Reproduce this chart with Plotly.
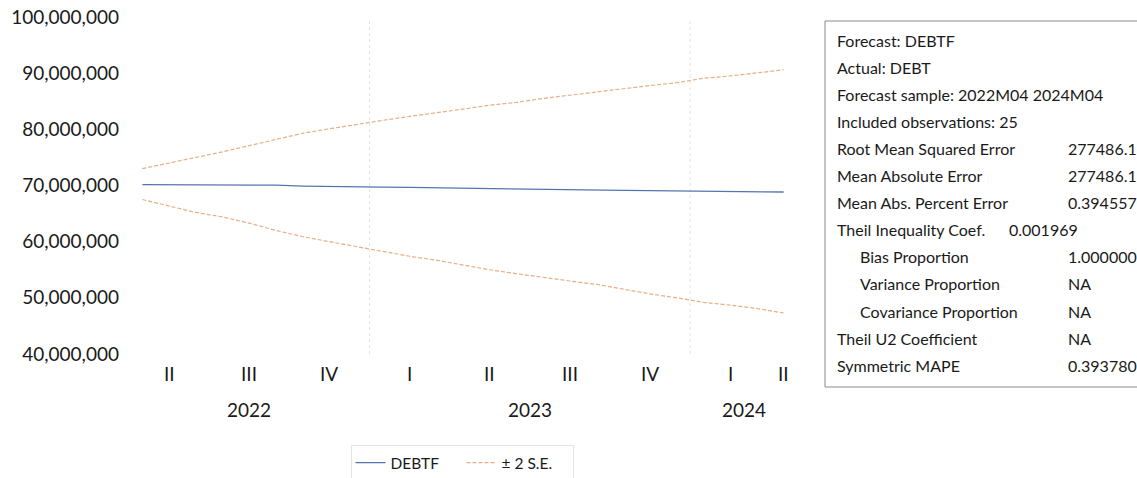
import plotly.graph_objects as go

# ---- data ---------------------------------------------------------------
months = []
for yr in (2022, 2023, 2024):
    for m in range(1, 13):
        if (yr, m) >= (2022, 4) and (yr, m) <= (2024, 4):
            months.append(f"{yr}M{m:02d}")

debtf = [70.15, 70.15, 70.15, 70.17, 70.12, 70.06, 69.90, 69.80, 69.73,
         69.70, 69.65, 69.57, 69.52, 69.46, 69.37, 69.28, 69.21, 69.18,
         69.14, 69.10, 69.07, 69.02, 68.95, 68.87, 68.84]
upper = [73.0, 74.0, 74.9, 76.0, 77.1, 78.2, 79.3, 80.1, 80.9, 81.6, 82.3,
         82.9, 83.6, 84.3, 84.8, 85.5, 86.1, 86.6, 87.2, 87.8, 88.3, 89.1,
         89.5, 90.0, 90.6]
lower = [67.5, 66.3, 65.2, 64.4, 63.3, 62.0, 60.9, 60.0, 59.1, 58.2, 57.4,
         56.7, 55.8, 55.0, 54.3, 53.6, 53.0, 52.4, 51.5, 50.7, 50.0, 49.2,
         48.7, 48.1, 47.3]
scale = 1_000_000  # values above are in millions

quarter_labels = ["II", "III", "IV", "I", "II", "III", "IV", "I", "II"]
quarter_months = ["2022M05", "2022M08", "2022M11", "2023M02", "2023M05",
                  "2023M08", "2023M11", "2024M02", "2024M04"]
year_labels = ["2022", "2023", "2024"]
year_centers = [4.0, 14.5, 22.5]          # category-index centres of each year
year_breaks = [8.5, 20.5]

y_ticks = [40, 50, 60, 70, 80, 90, 100]

stats_rows = [
    ("Forecast: DEBTF", "", False),
    ("Actual: DEBT", "", False),
    ("Forecast sample: 2022M04 2024M04", "", False),
    ("Included observations: 25", "", False),
    ("Root Mean Squared Error", "277486.1", False),
    ("Mean Absolute Error", "277486.1", False),
    ("Mean Abs. Percent Error", "0.394557", False),
    ("Theil Inequality Coef.", "0.001969", False),
    ("Bias Proportion", "1.000000", True),
    ("Variance Proportion", "NA", True),
    ("Covariance Proportion", "NA", True),
    ("Theil U2 Coefficient", "NA", False),
    ("Symmetric MAPE", "0.393780", False),
]

# ---- layout geometry (pixels) ------------------------------------------
W, H = 1137, 478
L, R, T, B = 129, 340, 17, 124
PW, PH = W - L - R, H - T - B
FONT = "Lato"
BLUE = "#5575AD"
ORANGE = "#E8AE86"
TEXT = "#1a1a1a"


def fx(px):
    return (px - L) / PW


def fy(py):
    return (H - B - py) / PH


fig = go.Figure()
fig.add_trace(go.Scatter(
    x=months, y=[v * scale for v in debtf], name="DEBTF", mode="lines",
    line=dict(color=BLUE, width=1.3)))
fig.add_trace(go.Scatter(
    x=months, y=[v * scale for v in upper], name="± 2 S.E.", mode="lines",
    line=dict(color=ORANGE, width=1.2, dash="4px,2px"), legendgroup="se"))
fig.add_trace(go.Scatter(
    x=months, y=[v * scale for v in lower], name="± 2 S.E.", mode="lines",
    line=dict(color=ORANGE, width=1.2, dash="4px,2px"), legendgroup="se",
    showlegend=False))

# year separators
for xb in year_breaks:
    fig.add_shape(type="line", xref="x", yref="paper", x0=xb, x1=xb,
                  y0=0, y1=0.99, line=dict(color="#E4E4E4", width=1, dash="dot"),
                  layer="below")

annotations = []
for lab, m in zip(quarter_labels, quarter_months):
    annotations.append(dict(x=months.index(m), y=fy(373), xref="x", yref="paper",
                            text=lab, showarrow=False, xanchor="center",
                            yanchor="middle", font=dict(size=19, color=TEXT, family=FONT)))
for lab, xc in zip(year_labels, year_centers):
    annotations.append(dict(x=xc, y=fy(409), xref="x", yref="paper",
                            text=lab, showarrow=False, xanchor="center",
                            yanchor="middle", font=dict(size=19, color=TEXT, family=FONT)))

# statistics box
fig.add_shape(type="rect", xref="paper", yref="paper",
              x0=fx(825), x1=fx(1250), y0=fy(387), y1=fy(21),
              line=dict(color="#8a8a8a", width=1), fillcolor="white")
row_y0, row_dy = 40, 27.1
for i, (label, value, indent) in enumerate(stats_rows):
    yy = fy(row_y0 + i * row_dy)
    annotations.append(dict(x=fx(858 if indent else 835), y=yy, xref="paper", yref="paper",
                            text=label, showarrow=False, xanchor="left", yanchor="middle",
                            font=dict(size=16, color=TEXT, family=FONT)))
    if value:
        vx = 1007 if label.startswith("Theil Inequality") else 1066
        annotations.append(dict(x=fx(vx), y=yy, xref="paper", yref="paper",
                                text=value, showarrow=False, xanchor="left", yanchor="middle",
                                font=dict(size=16, color=TEXT, family=FONT)))

fig.update_layout(
    width=W, height=H,
    margin=dict(l=L, r=R, t=T, b=B, autoexpand=False),
    paper_bgcolor="white", plot_bgcolor="white",
    font=dict(family=FONT, color=TEXT),
    showlegend=True,
    legend=dict(orientation="h", x=fx(462), xanchor="center", y=fy(445), yanchor="top",
                bordercolor="#E4E4E4", borderwidth=1, font=dict(size=15.5, family=FONT),
                itemwidth=30, tracegroupgap=0, entrywidth=66, entrywidthmode="pixels"),
    annotations=annotations,
    xaxis=dict(type="category", range=[-0.5, 24.5], showticklabels=False,
               showgrid=False, zeroline=False, showline=False, ticks=""),
    yaxis=dict(range=[40 * scale, 100 * scale], tickvals=[v * scale for v in y_ticks],
               tickformat=",d", showgrid=False, zeroline=False, showline=False,
               ticks="", ticklabelstandoff=9,
               tickfont=dict(size=19, family=FONT, color=TEXT)),
)

fig.write_html("out.html")
